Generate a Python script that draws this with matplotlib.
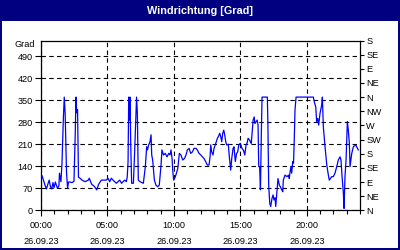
import matplotlib
matplotlib.use("Agg")
import matplotlib.pyplot as plt
from matplotlib.ticker import MultipleLocator, FixedLocator

# ---- data (hours since 26.09.23 00:00, wind direction in degrees) ----
hours = [0.00, 0.08, 0.19, 0.30, 0.41, 0.53, 0.62, 0.71, 0.81, 0.90, 0.98, 1.08, 1.17, 1.24,
         1.35, 1.39, 1.50, 1.58, 1.68, 1.75, 1.82, 1.92, 2.00, 2.07, 2.18, 2.33, 2.48, 2.58,
         2.63, 2.69, 2.75, 2.82, 2.93, 3.09, 3.31, 3.56, 3.63, 3.81, 4.01, 4.19, 4.34, 4.54,
         4.91, 5.04, 5.17, 5.29, 5.42, 5.67, 5.92, 6.06, 6.17, 6.30, 6.42, 6.49, 6.55, 6.60,
         6.64, 6.70, 6.75, 6.82, 6.95, 7.04, 7.13, 7.19, 7.25, 7.32, 7.45, 7.70, 7.85, 7.95,
         8.01, 8.10, 8.20, 8.28, 8.33, 8.40, 8.53, 8.65, 8.78, 8.90, 9.03, 9.10, 9.22, 9.35,
         9.48, 9.61, 9.71, 9.78, 9.86, 9.91, 9.98, 10.11, 10.29, 10.41, 10.53, 10.66, 10.80,
         10.91, 11.01, 11.14, 11.26, 11.40, 11.51, 11.66, 11.76, 11.89, 12.02, 12.14, 12.26,
         12.39, 12.51, 12.64, 12.72, 12.77, 12.84, 12.94, 13.02, 13.15, 13.27, 13.34, 13.45,
         13.52, 13.60, 13.67, 13.75, 13.82, 13.90, 13.97, 14.09, 14.17, 14.27, 14.35, 14.45,
         14.52, 14.62, 14.71, 14.80, 14.88, 15.00, 15.12, 15.24, 15.33, 15.43, 15.50, 15.58,
         15.68, 15.75, 15.82, 15.88, 15.96, 16.04, 16.09, 16.19, 16.26, 16.33, 16.38, 16.45,
         16.51, 16.58, 16.63, 17.03, 17.07, 17.13, 17.21, 17.28, 17.38, 17.46, 17.53, 17.61,
         17.66, 17.76, 17.83, 17.93, 18.01, 18.11, 18.19, 18.23, 18.36, 18.51, 18.62, 18.68,
         18.74, 18.81, 18.86, 18.94, 19.00, 19.06, 19.11, 19.19, 20.49, 20.56, 20.67, 20.74,
         20.82, 20.89, 20.99, 21.12, 21.17, 21.24, 21.37, 21.50, 21.62, 21.69, 21.87, 21.99,
         22.12, 22.25, 22.37, 22.50, 22.57, 22.65, 22.75, 22.80, 22.87, 22.95, 23.05, 23.12,
         23.20, 23.25, 23.38, 23.50, 23.68, 23.75, 23.87]
degrees = [107, 110, 95, 80, 68, 85, 96, 75, 68, 88, 72, 90, 78, 70,
           78, 118, 91, 150, 290, 360, 305, 120, 70, 90, 90, 88, 92, 250,
           360, 310, 320, 105, 102, 96, 91, 96, 102, 83, 76, 65, 83, 96,
           96, 102, 91, 102, 96, 86, 96, 86, 91, 96, 91, 107, 155, 360,
           287, 360, 210, 86, 86, 180, 287, 360, 308, 96, 91, 86, 139, 202,
           192, 208, 218, 240, 176, 160, 96, 80, 75, 80, 144, 192, 176, 181,
           170, 181, 176, 192, 165, 128, 96, 107, 133, 181, 176, 160, 165,
           176, 192, 197, 181, 186, 197, 197, 192, 181, 176, 170, 165,
           155, 144, 144, 170, 208, 186, 176, 197, 213, 229, 234, 245,
           234, 218, 245, 255, 240, 218, 208, 210, 170, 128, 165, 197,
           202, 155, 180, 186, 208, 213, 197, 190, 176, 208, 213, 229,
           224, 218, 213, 245, 287, 297, 276, 282, 287, 271, 139, 139,
           65, 250, 360, 360, 276, 80, 22, 12, 38, 49, 33, 40,
           12, 65, 101, 80, 75, 65, 59, 96, 112, 107, 112, 101,
           123, 139, 118, 155, 150, 234, 319, 360, 360, 345, 329, 282,
           292, 271, 308, 335, 360, 266, 202, 144, 112, 96, 107, 107,
           118, 139, 160, 170, 160, 107, 54, 6, 107, 160, 282, 255,
           213, 139, 181, 202, 208, 202, 192]

title = "Windrichtung [Grad]"
unit_label = "Grad"
left_ticks = [0, 70, 140, 210, 280, 350, 420, 490]
right_ticks = [0, 45, 90, 135, 180, 225, 270, 315, 360, 405, 450, 495, 540]
right_labels = ["N", "NE", "E", "SE", "S", "SW", "W", "NW", "N", "NE", "E", "SE", "S"]
x_ticks = [0, 5, 10, 15, 20]
x_labels = ["00:00\n26.09.23", "05:00\n26.09.23", "10:00\n26.09.23",
            "15:00\n26.09.23", "20:00\n26.09.23"]

NAVY = "#000080"
FONT = ["Liberation Sans", "DejaVu Sans"]

fig = plt.figure(figsize=(4, 2.5), dpi=100, facecolor=NAVY)
bg = fig.add_axes([2 / 400, 2 / 250, 396 / 400, (250 - 21 - 2) / 250], zorder=-10)
bg.set_facecolor("white")
bg.set_xticks([])
bg.set_yticks([])
for s in bg.spines.values():
    s.set_visible(False)

fig.text(0.5, 1 - 10.5 / 250, title, color="white", ha="center", va="center",
         fontsize=7.8, fontweight="bold", family=FONT)

ax = fig.add_axes([41 / 400, 39.7 / 250, 319 / 400, 169.8 / 250])
ax.set_facecolor("white")
ax.plot(hours, degrees, color="#0000ff", lw=0.9, zorder=3)

ax.set_xlim(0, 24)
ax.set_ylim(0, 540)
ax.xaxis.set_major_locator(FixedLocator(x_ticks))
ax.set_xticklabels(x_labels, family=FONT, fontsize=6.6, linespacing=1.9)
ax.xaxis.set_minor_locator(MultipleLocator(1))
ax.yaxis.set_major_locator(FixedLocator(left_ticks))
ax.set_yticklabels([str(v) for v in left_ticks], family=FONT, fontsize=6.6)

ax.tick_params(axis="both", which="major", direction="out", length=4, width=0.8,
               color="black", pad=2)
ax.tick_params(axis="x", which="minor", direction="out", length=3, width=0.8)
ax.tick_params(axis="x", which="major", pad=4)

ax.grid(True, which="major", color="black", linestyle=(0, (4, 3)), linewidth=0.8)
for s in ax.spines.values():
    s.set_color("black")
    s.set_linewidth(0.9)

ax.text(-0.02, 526, unit_label, transform=ax.get_yaxis_transform(), ha="right",
        va="center", fontsize=6.6, family=FONT)

ax2 = ax.twinx()
ax2.set_ylim(0, 540)
ax2.yaxis.set_major_locator(FixedLocator(right_ticks))
ax2.set_yticklabels(right_labels, family=FONT, fontsize=6.6)
ax2.tick_params(axis="y", direction="out", length=3, width=0.8, pad=1.5)
for s in ax2.spines.values():
    s.set_visible(False)

fig.savefig("out.png", dpi=100, facecolor=NAVY)
